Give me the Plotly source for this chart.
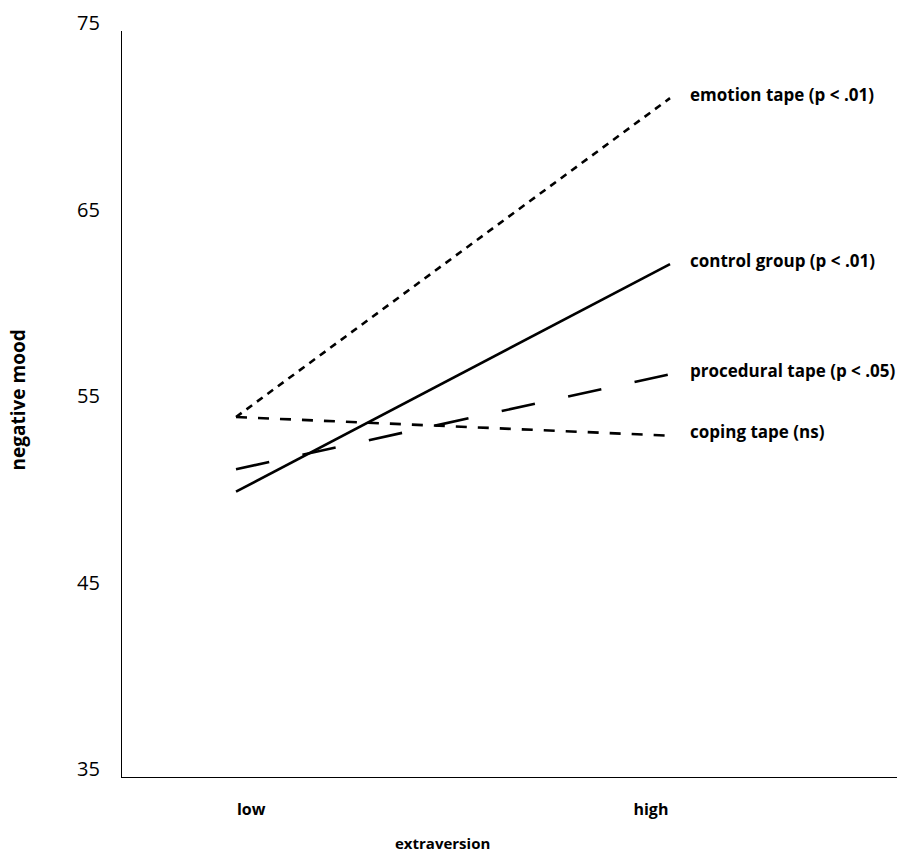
import plotly.graph_objects as go

# ---- data ----
x_levels = ["low", "high"]
series_names = ["emotion tape", "control group", "procedural tape", "coping tape"]
series_labels = ["emotion tape (p < .01)", "control group (p < .01)",
                 "procedural tape (p < .05)", "coping tape (ns)"]
emotion_tape = [54.3, 71.4]
control_group = [50.3, 62.5]
procedural_tape = [51.5, 56.6]
coping_tape = [54.3, 53.3]
y_ticks = [35, 45, 55, 65, 75]
x_title = "extraversion"
y_title = "negative mood"

values = [emotion_tape, control_group, procedural_tape, coping_tape]
dashes = ["7px,6px", "solid", "34px,34px", "11px,11px"]

x_pos = list(range(len(x_levels)))  # 0 = low, 1 = high

fig = go.Figure()
for name, vals, dash in zip(series_names, values, dashes):
    fig.add_trace(go.Scatter(
        x=x_pos, y=vals, mode="lines", name=name,
        line=dict(color="black", width=2.6, dash=dash),
        showlegend=False, hoverinfo="skip"))

bold = dict(family="Open Sans", size=17, color="black", weight="bold")
bold_small = dict(family="Open Sans", size=16, color="black", weight="bold")

for label, vals in zip(series_labels, values):
    fig.add_annotation(x=x_pos[-1], y=vals[-1], xref="x", yref="y",
                       text=label, showarrow=False, xanchor="left",
                       yanchor="middle", xshift=18, yshift=4, font=bold)

fig.add_annotation(x=0.414, y=-0.088, xref="paper", yref="paper",
                   text=x_title, showarrow=False, xanchor="center",
                   yanchor="middle", borderpad=0,
                   font=dict(bold_small, size=15))
fig.add_annotation(x=-0.134, y=0.505, xref="paper", yref="paper",
                   text=y_title, showarrow=False, textangle=-90,
                   xanchor="center", yanchor="middle",
                   font=dict(bold_small, size=19))

fig.update_layout(
    width=899, height=853,
    margin=dict(l=122, r=2, t=31, b=76),
    paper_bgcolor="white", plot_bgcolor="white",
    xaxis=dict(range=[-0.2627, 1.523], showgrid=False, zeroline=False,
               showline=True, linecolor="black", linewidth=1.3,
               tickvals=[0.035, 0.956], ticktext=x_levels, ticks="",
               ticklabelstandoff=18, tickfont=bold_small),
    yaxis=dict(range=[35, 75], showgrid=False, zeroline=False,
               showline=True, linecolor="black", linewidth=1.3,
               tickvals=y_ticks, ticks="", ticklabelstandoff=17,
               ticklabelshift=-8,
               tickfont=dict(family="Open Sans", size=20, color="black")),
)

fig.write_html("out.html",
               config={"displayModeBar": False},
               post_script="document.body.style.margin='0';"
                           "document.body.style.overflow='hidden';")
